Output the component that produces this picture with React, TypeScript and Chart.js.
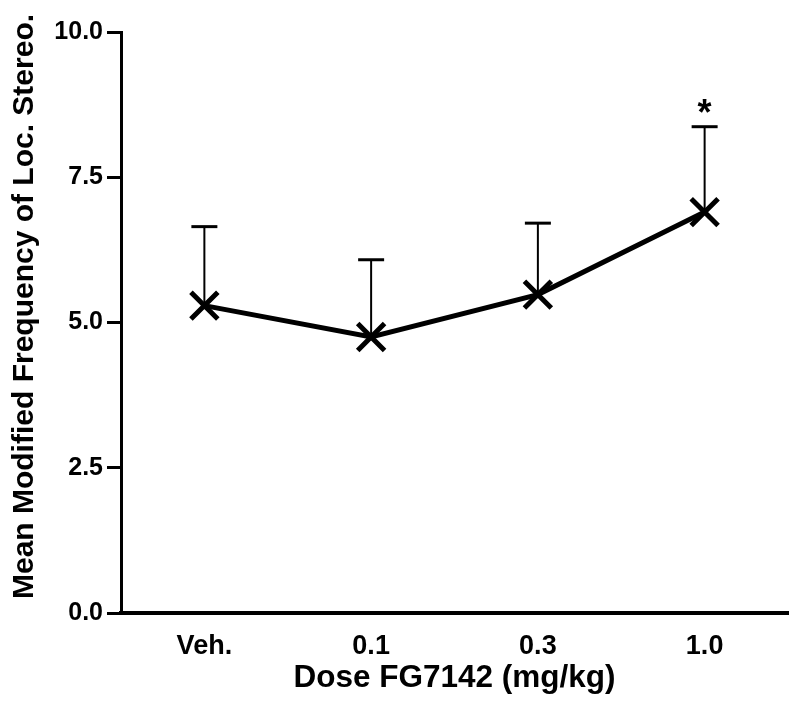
import React, { useEffect, useRef } from "react";
import { Chart, registerables } from "chart.js";

Chart.register(...registerables);

const categories = ["Veh.", "0.1", "0.3", "1.0"];
const means = [5.29, 4.75, 5.48, 6.9];
const semUpper = [1.36, 1.33, 1.23, 1.47];
const significance = ["", "", "", "*"];
const yTicks = [0, 2.5, 5, 7.5, 10];
const xTitle = "Dose FG7142 (mg/kg)";
const yTitle = "Mean Modified Frequency of Loc. Stereo.";

const FONT = "'Liberation Sans', Arial, Helvetica, sans-serif";

const errorBarPlugin = {
  id: "errorBars",
  beforeDatasetsDraw(chart: any) {
    const ctx = chart.ctx;
    const x = chart.scales.x;
    const y = chart.scales.y;
    ctx.save();
    ctx.strokeStyle = "#000";
    categories.forEach((_, i) => {
      const px = x.getPixelForValue(i);
      const py = y.getPixelForValue(means[i]);
      const pTop = y.getPixelForValue(means[i] + semUpper[i]);
      ctx.lineWidth = 2;
      ctx.beginPath();
      ctx.moveTo(px, py);
      ctx.lineTo(px, pTop);
      ctx.stroke();
      ctx.lineWidth = 3;
      ctx.beginPath();
      ctx.moveTo(px - 13, pTop);
      ctx.lineTo(px + 13, pTop);
      ctx.stroke();
      if (significance[i]) {
        ctx.fillStyle = "#000";
        ctx.font = `bold 36px ${FONT}`;
        ctx.textAlign = "center";
        ctx.textBaseline = "alphabetic";
        ctx.fillText(significance[i], px, pTop - 2);
      }
    });
    ctx.restore();
  },
  afterDraw(chart: any) {
    const ctx = chart.ctx;
    const y = chart.scales.y;
    ctx.save();
    ctx.fillStyle = "#000";
    ctx.font = `bold 30px ${FONT}`;
    ctx.textAlign = "center";
    ctx.textBaseline = "middle";
    ctx.translate(25, (y.top + y.bottom) / 2 - 16);
    ctx.rotate(-Math.PI / 2);
    ctx.fillText(yTitle, 0, 0);
    ctx.restore();
  },
};

export default function App() {
  const ref = useRef<HTMLCanvasElement>(null);
  useEffect(() => {
    if (!ref.current) return;
    const chart = new Chart(ref.current, {
      type: "line",
      data: {
        labels: categories,
        datasets: [
          {
            data: means,
            borderColor: "#000",
            backgroundColor: "#000",
            borderWidth: 5,
            pointStyle: "crossRot",
            pointRadius: 19,
            pointBorderWidth: 5,
            pointBorderColor: "#000",
            tension: 0,
          },
        ],
      },
      options: {
        animation: false,
        responsive: false,
        events: [],
        layout: { autoPadding: false, padding: { left: 0, right: 12, top: 32, bottom: 0 } },
        plugins: { legend: { display: false }, tooltip: { enabled: false } },
        scales: {
          x: {
            type: "category",
            offset: true,
            grid: { display: false, drawTicks: false },
            border: { display: true, color: "#000", width: 4 },
            ticks: {
              color: "#000",
              padding: 17,
              font: { family: FONT, size: 27, weight: "bold" },
            },
            title: {
              display: true,
              text: xTitle,
              color: "#000",
              font: { family: FONT, size: 31.5, weight: "bold" },
              padding: { top: 0, bottom: 10 },
            },
            afterFit(scale: any) {
              scale.height = 94;
              scale.paddingLeft = 0;
              scale.paddingRight = 0;
            },
          },
          y: {
            type: "linear",
            min: 0,
            max: 10,
            afterBuildTicks(scale: any) {
              scale.ticks = yTicks.map((v) => ({ value: v }));
            },
            grid: {
              display: true,
              drawOnChartArea: false,
              drawTicks: true,
              tickLength: 14,
              tickWidth: 3,
              tickColor: "#000",
            },
            border: { display: true, color: "#000", width: 3 },
            ticks: {
              color: "#000",
              padding: 4,
              font: { family: FONT, size: 25, weight: "bold" },
              callback: (v: any) => Number(v).toFixed(1),
            },
            title: { display: false },
            afterFit(scale: any) {
              scale.width = 121;
            },
          },
        },
      },
      plugins: [errorBarPlugin],
    });
    return () => chart.destroy();
  }, []);
  return (
    <div style={{ position: "fixed", left: 0, top: 0, width: 800, height: 707, background: "#fff" }}>
      <canvas ref={ref} width={800} height={707} style={{ width: 800, height: 707, display: "block" }} />
    </div>
  );
}
